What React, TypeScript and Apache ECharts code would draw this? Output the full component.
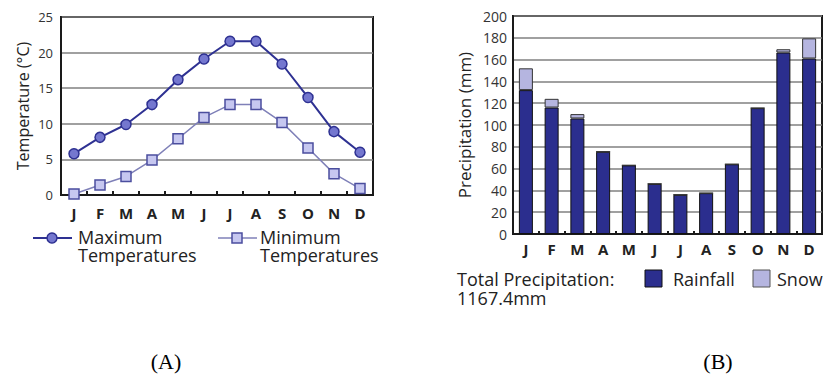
import React, { useEffect, useRef } from "react";
import * as echarts from "echarts";

const months = ["J", "F", "M", "A", "M", "J", "J", "A", "S", "O", "N", "D"];
const maxTemps = [5.8, 8.1, 9.9, 12.7, 16.2, 19.1, 21.6, 21.6, 18.4, 13.7, 8.9, 6.0];
const minTemps = [0.15, 1.4, 2.6, 4.9, 7.9, 10.9, 12.7, 12.7, 10.2, 6.6, 3.0, 0.9];
const rainfall = [132, 116, 106, 75.5, 63, 46, 36, 37.5, 64, 115.5, 166.5, 161];
const snow = [20, 8, 4, 0, 0, 0, 0, 0, 0, 0, 3, 18.5];
const totalLabel = "1167.4mm";

const FONT = "'Open Sans', 'Noto Sans', sans-serif";
const SERIF = "'Liberation Serif', 'Times New Roman', serif";

export default function App() {
  const ref = useRef<HTMLDivElement>(null);
  useEffect(() => {
    if (!ref.current) return;
    const chart = echarts.init(ref.current, null, { renderer: "svg" });
    const navy = "#2e3192";
    const gridLine = { show: true, lineStyle: { color: "#808080", width: 1.5 } };
    const monthLabel = { color: "#222", fontFamily: FONT, fontSize: 15, fontWeight: "bold" };
    const legendText = (x: number, y: number, text: string, size = 18) => ({
      type: "text", x, y,
      style: { text, fill: "#222", font: `${size}px ${FONT}`, textVerticalAlign: "middle" },
    });
    chart.setOption({
      animation: false,
      backgroundColor: "#ffffff",
      grid: [
        { left: 61, top: 17, width: 312, height: 178, show: true, borderColor: "#1a1a1a", borderWidth: 2, backgroundColor: "transparent" },
        { left: 513, top: 16, width: 309, height: 218, show: true, borderColor: "#1a1a1a", borderWidth: 2, backgroundColor: "transparent" },
      ],
      xAxis: [
        {
          gridIndex: 0, type: "category", data: months, boundaryGap: true,
          axisLine: { lineStyle: { color: "#1a1a1a", width: 2 } },
          axisTick: { show: true, inside: true, length: 4, lineStyle: { color: "#1a1a1a", width: 2 } },
          axisLabel: { ...monthLabel, margin: 10 },
        },
        {
          gridIndex: 1, type: "category", data: months, boundaryGap: true,
          axisLine: { lineStyle: { color: "#1a1a1a", width: 2 } },
          axisTick: { show: true, inside: true, length: 3, lineStyle: { color: "#1a1a1a", width: 2 } },
          axisLabel: { ...monthLabel, margin: 7 },
        },
      ],
      yAxis: [
        {
          gridIndex: 0, type: "value", min: 0, max: 25, interval: 5,
          name: "Temperature (°C)", nameLocation: "middle", nameRotate: 90, nameGap: 30,
          nameTextStyle: { color: "#222", fontFamily: FONT, fontSize: 16 },
          axisLine: { show: true, lineStyle: { color: "#1a1a1a", width: 2 } },
          axisTick: { show: false },
          axisLabel: { color: "#333", fontFamily: FONT, fontSize: 13, margin: 8 },
          splitLine: gridLine,
        },
        {
          gridIndex: 1, type: "value", min: 0, max: 200, interval: 20,
          name: "Precipitation (mm)", nameLocation: "middle", nameRotate: 90, nameGap: 40,
          nameTextStyle: { color: "#222", fontFamily: FONT, fontSize: 17 },
          axisLine: { show: true, lineStyle: { color: "#1a1a1a", width: 2 } },
          axisTick: { show: false },
          axisLabel: { color: "#333", fontFamily: FONT, fontSize: 14, margin: 6 },
          splitLine: gridLine,
        },
      ],
      series: [
        {
          name: "Maximum Temperatures", type: "line", xAxisIndex: 0, yAxisIndex: 0, data: maxTemps,
          symbol: "circle", symbolSize: 10,
          lineStyle: { color: navy, width: 2 },
          itemStyle: { color: "#7477cf", borderColor: navy, borderWidth: 1.5 },
          z: 3,
        },
        {
          name: "Minimum Temperatures", type: "line", xAxisIndex: 0, yAxisIndex: 0, data: minTemps,
          symbol: "rect", symbolSize: 10,
          lineStyle: { color: "#7f80b8", width: 1.5 },
          itemStyle: { color: "#c6c7f0", borderColor: "#4b4e9e", borderWidth: 1.5 },
          z: 2,
        },
        {
          name: "Rainfall", type: "bar", xAxisIndex: 1, yAxisIndex: 1, data: rainfall, stack: "p",
          barWidth: 14,
          itemStyle: { color: "#2b2e8e", borderColor: "#111", borderWidth: 1 },
        },
        {
          name: "Snow", type: "bar", xAxisIndex: 1, yAxisIndex: 1, data: snow, stack: "p",
          barWidth: 14,
          itemStyle: { color: "#b5b5e0", borderColor: "#333", borderWidth: 1 },
        },
      ],
      graphic: [
        // left legend
        { type: "line", shape: { x1: 33, y1: 238, x2: 72, y2: 238 }, style: { stroke: navy, lineWidth: 2 } },
        { type: "circle", shape: { cx: 52, cy: 238, r: 5 }, style: { fill: "#7477cf", stroke: navy, lineWidth: 1.5 } },
        legendText(78, 237, "Maximum"),
        legendText(78, 255, "Temperatures"),
        { type: "line", shape: { x1: 218, y1: 238, x2: 257, y2: 238 }, style: { stroke: "#7f80b8", lineWidth: 1.5 } },
        { type: "rect", shape: { x: 232, y: 233, width: 10, height: 10 }, style: { fill: "#c6c7f0", stroke: "#4b4e9e", lineWidth: 1.5 } },
        legendText(260, 237, "Minimum"),
        legendText(260, 255, "Temperatures"),
        // right legend
        legendText(457, 279, "Total Precipitation:"),
        legendText(457, 298, totalLabel),
        { type: "rect", shape: { x: 645, y: 270, width: 17, height: 17 }, style: { fill: "#2b2e8e", stroke: "#111", lineWidth: 1 } },
        legendText(673, 279, "Rainfall"),
        { type: "rect", shape: { x: 753, y: 270, width: 17, height: 17 }, style: { fill: "#b5b5e0", stroke: "#555", lineWidth: 1 } },
        legendText(777, 279, "Snow"),
        // captions
        { type: "text", x: 166, y: 361, style: { text: "(A)", fill: "#000", font: `22px ${SERIF}`, textAlign: "center", textVerticalAlign: "middle" } },
        { type: "text", x: 718, y: 361, style: { text: "(B)", fill: "#000", font: `22px ${SERIF}`, textAlign: "center", textVerticalAlign: "middle" } },
      ],
    });
    return () => chart.dispose();
  }, []);
  return <div ref={ref} style={{ position: "absolute", left: 0, top: 0, width: 830, height: 374 }} />;
}
